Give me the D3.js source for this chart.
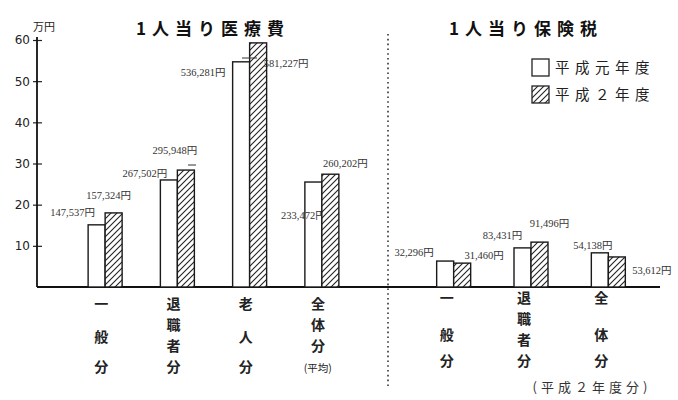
<!DOCTYPE html>
<html><head><meta charset="utf-8">
<script src="https://cdn.jsdelivr.net/npm/d3@7"></script>
<style>body{margin:0;background:#fff}</style>
</head><body>
<script>
// ---- data ----
const medCategories = ["一般分", "退職者分", "老人分", "全体分(平均)"];
const medLabels = [["一","般","分"],["退","職","者","分"],["老","人","分"],["全","体","分","(平均)"]];
const medH1 = [15.1, 26.0, 54.7, 25.5];   // 平成元年度 (万円)
const medH2 = [18.0, 28.4, 59.3, 27.4];   // 平成２年度 (万円)
const medText1 = ["147,537円", "267,502円", "536,281円", "233,472円"];
const medText2 = ["157,324円", "295,948円", "581,227円", "260,202円"];
const taxCategories = ["一般分", "退職者分", "全体分"];
const taxLabels = [["一","般","分"],["退","職","者","分"],["全","体","分"]];
const taxH1 = [6.3, 9.5, 8.3];
const taxH2 = [5.8, 10.9, 7.3];
const taxText1 = ["32,296円", "83,431円", "54,138円"];
const taxText2 = ["31,460円", "91,496円", "53,612円"];
const yTicks = [10, 20, 30, 40, 50, 60];
const seriesNames = ["平成元年度", "平成２年度"];

// ---- layout ----
const W = 678, H = 400;
const svg = d3.select("body").append("svg").attr("width", W).attr("height", H)
  .style("font-family", "'Noto Sans CJK JP', sans-serif");
const defs = svg.append("defs");
const pat = defs.append("pattern").attr("id","hatch").attr("patternUnits","userSpaceOnUse")
  .attr("width",6).attr("height",6);
pat.append("rect").attr("width",6).attr("height",6).attr("fill","#fff");
pat.append("path").attr("d","M-1,1 l2,-2 M0,6 l6,-6 M5,7 l2,-2").attr("stroke","#222").attr("stroke-width",1.1);

const y = d3.scaleLinear().domain([0, 60]).range([287, 40]);
const xMed = d3.scaleBand().domain(medCategories).range([69, 358]).padding(0);
const xTax = d3.scaleBand().domain(taxCategories).range([415, 647]).padding(0);
const bw = 17;

// axis
const axisX = 37;
const yAxis = d3.axisLeft(y).tickValues(yTicks).tickSize(0).tickPadding(0).tickFormat(d3.format("d"));
const gAx = svg.append("g").attr("transform", `translate(${axisX},0)`).call(yAxis);
gAx.select(".domain").remove();
gAx.selectAll(".tick text").attr("x", -7).attr("font-size", 12).attr("fill", "#222")
  .attr("font-family", "'DejaVu Sans', sans-serif");
gAx.selectAll(".tick").append("line").attr("x1", -4).attr("x2", 5).attr("stroke", "#222").attr("stroke-width", 1.2);
svg.append("line").attr("x1", axisX).attr("x2", axisX).attr("y1", 37).attr("y2", y(0))
  .attr("stroke", "#111").attr("stroke-width", 1.8);
svg.append("text").attr("x", 33).attr("y", 31).attr("font-size", 11).attr("fill","#222").text("万円");

// baseline
svg.append("line").attr("x1", axisX).attr("x2", 660).attr("y1", y(0)).attr("y2", y(0))
  .attr("stroke", "#111").attr("stroke-width", 2);

// separator
svg.append("line").attr("x1", 388).attr("x2", 388).attr("y1", 34).attr("y2", 386)
  .attr("stroke", "#333").attr("stroke-width", 1.6).attr("stroke-dasharray", "1.6,3.2");

// titles
svg.append("text").attr("x", 213).attr("y", 35).attr("text-anchor","middle").attr("letter-spacing", 6)
  .attr("font-size", 17).attr("font-weight","bold").attr("fill","#111").text("1人当り医療費");
svg.append("text").attr("x", 526).attr("y", 35).attr("text-anchor","middle").attr("letter-spacing", 6)
  .attr("font-size", 17).attr("font-weight","bold").attr("fill","#111").text("1人当り保険税");

// legend
const lg = svg.append("g");
[0,1].forEach(i => {
  lg.append("rect").attr("x", 532).attr("y", 59 + i*27).attr("width", 17).attr("height", 17)
    .attr("fill", i ? "url(#hatch)" : "#fff").attr("stroke", "#222").attr("stroke-width", 1.3);
  lg.append("text").attr("x", 555).attr("y", 73 + i*27).attr("font-size", 14.5).attr("fill","#222")
    .attr("letter-spacing", 5.5).text(seriesNames[i]);
});

function drawGroup(xs, cats, h1, h2, t1, t2, labels, off1, off2, labOff, rows4, rows3) {
  const g = svg.append("g");
  cats.forEach((c, i) => {
    const cx = xs(c) + xs.bandwidth()/2;
    [[h1, 0, "#fff", t1, off1], [h2, 1, "url(#hatch)", t2, off2]].forEach(([h, k, fill, t, off]) => {
      const x0 = k ? cx : cx - bw;
      g.append("rect").attr("x", x0).attr("y", y(h[i])).attr("width", bw).attr("height", y(0) - y(h[i]))
        .attr("fill", fill).attr("stroke", "#1a1a1a").attr("stroke-width", 1.4);
      g.append("text").attr("x", x0 + bw/2 + off[i][0]).attr("y", y(h[i]) + off[i][1])
        .attr("text-anchor","middle").attr("font-size", 10.5).attr("fill","#333")
        .attr("font-family", "'Liberation Serif','Noto Sans CJK JP', serif").text(t[i]);
    });
    const lines = labels[i];
    const rowY = lines.length === 3 ? rows3 : rows4;
    lines.forEach((s, j) => {
      g.append("text").attr("x", cx + labOff).attr("y", rowY[j] + 5)
        .attr("text-anchor","middle").attr("font-size", s.length > 1 ? 10.5 : 14)
        .attr("font-weight", s.length > 1 ? "normal" : "bold").attr("fill","#222").text(s);
    });
  });
}
drawGroup(xMed, medCategories, medH1, medH2, medText1, medText2, medLabels,
  [[-24,-9],[-24,-3],[-38,14],[-10,37]], [[-5,-14],[-11,-16],[28,24],[15,-7]], -4,
  [304, 325, 346, 367], [304, 337, 367]);
drawGroup(xTax, taxCategories, taxH1, taxH2, taxText1, taxText2, taxLabels,
  [[-31,-5],[-20,-9],[-7,-4]], [[22,-4],[10,-15],[35,17]], -7,
  [298, 319, 340, 361], [298, 335, 361]);

// leader lines
svg.append("line").attr("x1", 242).attr("x2", 257).attr("y1", 58).attr("y2", 58).attr("stroke","#333");
svg.append("line").attr("x1", 188).attr("x2", 196).attr("y1", 165).attr("y2", 165).attr("stroke","#333");

svg.append("text").attr("x", 592).attr("y", 392).attr("text-anchor","middle").attr("font-size", 13)
  .attr("letter-spacing", 4).attr("fill","#333").text("(平成２年度分)");
</script>
</body></html>
